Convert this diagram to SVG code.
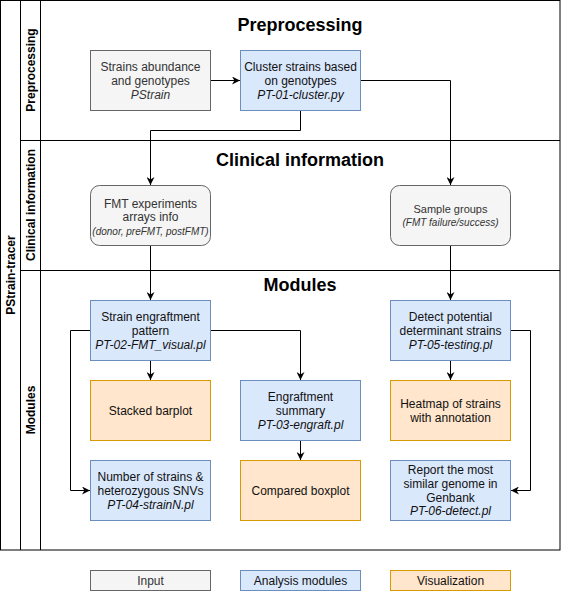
<svg xmlns="http://www.w3.org/2000/svg" width="561" height="591" viewBox="0 0 561 591">
<defs>
<marker id="arr" viewBox="0 0 10 10" refX="10" refY="5" markerWidth="8" markerHeight="8" markerUnits="userSpaceOnUse" orient="auto">
<path d="M0,0 L10,5 L0,10 L3,5 z" fill="#000"/>
</marker>
<style>
text{font-family:"Liberation Sans",Arial,sans-serif;font-size:12px;fill:#111;text-anchor:middle}
.it{font-style:italic}
.s10{font-size:10px}
.s11{font-size:11px}
.gt{fill:#333333}
.ttl{font-size:18px;font-weight:bold;fill:#000}
.lbl{font-weight:bold;fill:#000}
.frame{fill:none;stroke:#000;stroke-width:1}
.in{fill:#f5f5f5;stroke:#666666;stroke-width:1}
.an{fill:#dae8fc;stroke:#6c8ebf;stroke-width:1}
.vi{fill:#ffe6cc;stroke:#d79b00;stroke-width:1}
.edge{fill:none;stroke:#000;stroke-width:1;marker-end:url(#arr)}
</style>
</defs>
<rect width="561" height="591" fill="#fff"/>
<g id="pool">
<rect class="frame" x="0.5" y="0.5" width="559.5" height="549.5" fill="#fff"/>
<line class="frame" x1="20.5" y1="0.5" x2="20.5" y2="550"/>
<line class="frame" x1="40.5" y1="0.5" x2="40.5" y2="550"/>
<line class="frame" x1="20.5" y1="140.5" x2="560" y2="140.5"/>
<line class="frame" x1="20.5" y1="270.5" x2="560" y2="270.5"/>
<text class="lbl" transform="translate(14.5,275) rotate(-90)">PStrain-tracer</text>
<text class="lbl" transform="translate(34.5,70) rotate(-90)">Preprocessing</text>
<text class="lbl" transform="translate(34.5,205) rotate(-90)">Clinical information</text>
<text class="lbl" transform="translate(34.5,410) rotate(-90)">Modules</text>
<text class="ttl" x="300" y="31">Preprocessing</text>
<text class="ttl" x="300" y="166">Clinical information</text>
<text class="ttl" x="300" y="291">Modules</text>
</g>
<g id="connectors">
<path class="edge" d="M210.5,80.5 H240"/>
<path class="edge" d="M300.5,110.5 V130.5 H150.5 V185"/>
<path class="edge" d="M360.5,80.5 H450.5 V185"/>
<path class="edge" d="M150.5,245.5 V300"/>
<path class="edge" d="M450.5,245.5 V300"/>
<path class="edge" d="M150.5,360.5 V380"/>
<path class="edge" d="M210.5,330.5 H300.5 V380"/>
<path class="edge" d="M90.5,330.5 H70.5 V490.5 H90"/>
<path class="edge" d="M300.5,440.5 V460"/>
<path class="edge" d="M450.5,360.5 V380"/>
<path class="edge" d="M510.5,330.5 H530.5 V490.5 H511"/>
</g>
<g id="strains-abundance">
<rect class="in" x="90.5" y="50.5" width="120" height="60"/>
<text class="gt" x="150.5" y="70.5">Strains abundance</text>
<text class="gt" x="150.5" y="84.5">and genotypes</text>
<text class="gt it" x="150.5" y="98.5">PStrain</text>
</g>
<g id="cluster-strains">
<rect class="an" x="240.5" y="50.5" width="120" height="60"/>
<text x="300.5" y="70.5">Cluster strains based</text>
<text x="300.5" y="84.5">on genotypes</text>
<text class="it" x="300.5" y="98.5">PT-01-cluster.py</text>
</g>
<g id="fmt-experiments">
<rect class="in" x="90.5" y="185.5" width="120" height="60" rx="9"/>
<text class="gt" x="150.5" y="207.5">FMT experiments</text>
<text class="gt" x="150.5" y="221">arrays info</text>
<text class="gt it s10" x="150.5" y="234.5">(donor, preFMT, postFMT)</text>
</g>
<g id="sample-groups">
<rect class="in" x="390.5" y="185.5" width="120" height="60" rx="9"/>
<text class="gt s11" x="450.5" y="213">Sample groups</text>
<text class="gt it s10" x="450.5" y="226">(FMT failure/success)</text>
</g>
<g id="strain-engraftment">
<rect class="an" x="90.5" y="300.5" width="120" height="60"/>
<text x="150.5" y="320.5">Strain engraftment</text>
<text x="150.5" y="334.5">pattern</text>
<text class="it" x="150.5" y="348.5">PT-02-FMT_visual.pl</text>
</g>
<g id="detect-strains">
<rect class="an" x="390.5" y="300.5" width="120" height="60"/>
<text x="450.5" y="320.5">Detect potential</text>
<text x="450.5" y="334.5">determinant strains</text>
<text class="it" x="450.5" y="348.5">PT-05-testing.pl</text>
</g>
<g id="stacked-barplot">
<rect class="vi" x="90.5" y="380.5" width="120" height="60"/>
<text x="150.5" y="415">Stacked barplot</text>
</g>
<g id="engraftment-summary">
<rect class="an" x="240.5" y="380.5" width="120" height="60"/>
<text x="300.5" y="400.5">Engraftment</text>
<text x="300.5" y="414.5">summary</text>
<text class="it" x="300.5" y="428.5">PT-03-engraft.pl</text>
</g>
<g id="heatmap">
<rect class="vi" x="390.5" y="380.5" width="120" height="60"/>
<text x="450.5" y="408">Heatmap of strains</text>
<text x="450.5" y="422">with annotation</text>
</g>
<g id="number-strains">
<rect class="an" x="90.5" y="460.5" width="120" height="60"/>
<text x="150.5" y="480.5">Number of strains &amp;</text>
<text x="150.5" y="494.5">heterozygous SNVs</text>
<text class="it" x="150.5" y="508.5">PT-04-strainN.pl</text>
</g>
<g id="compared-boxplot">
<rect class="vi" x="240.5" y="460.5" width="120" height="60"/>
<text x="300.5" y="495">Compared boxplot</text>
</g>
<g id="report-genome">
<rect class="an" x="390.5" y="460.5" width="120" height="60"/>
<text x="450.5" y="474">Report the most</text>
<text x="450.5" y="488">similar genome in</text>
<text x="450.5" y="501.5">Genbank</text>
<text class="it" x="450.5" y="515">PT-06-detect.pl</text>
</g>
<g id="legend-input">
<rect class="in" x="90.5" y="570.5" width="120" height="20"/>
<text class="gt" x="150.5" y="585">Input</text>
</g>
<g id="legend-analysis">
<rect class="an" x="240.5" y="570.5" width="120" height="20"/>
<text x="300.5" y="585">Analysis modules</text>
</g>
<g id="legend-visualization">
<rect class="vi" x="390.5" y="570.5" width="120" height="20"/>
<text x="450.5" y="585">Visualization</text>
</g>
</svg>
